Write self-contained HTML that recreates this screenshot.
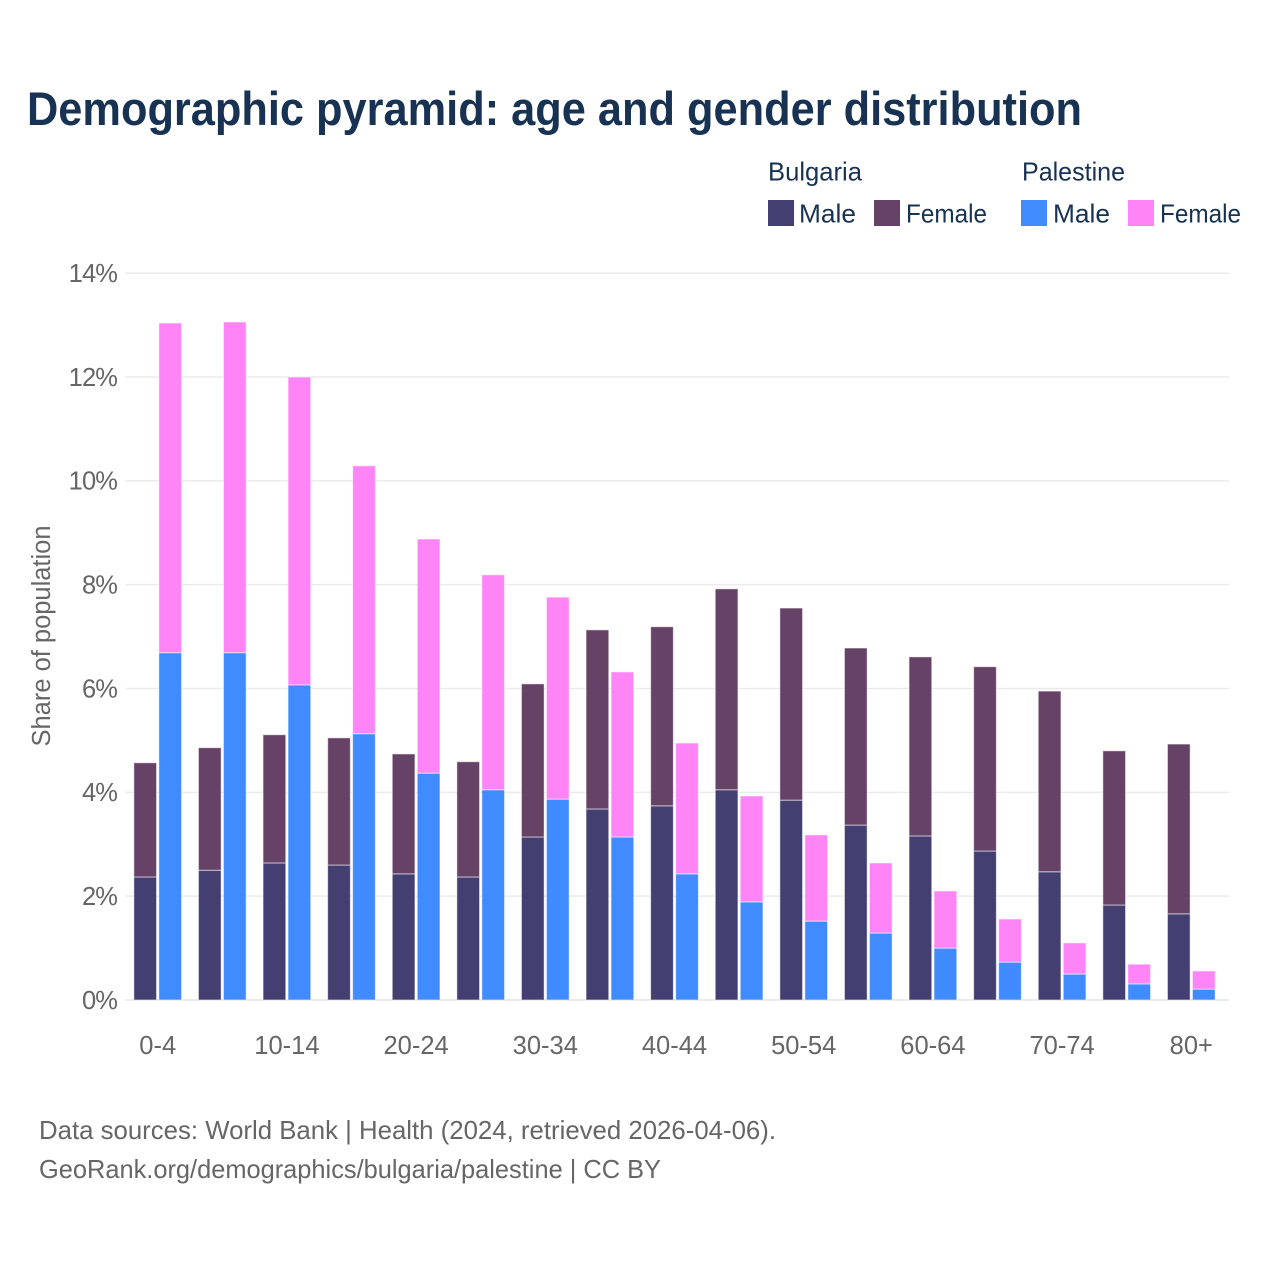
<!DOCTYPE html>
<html lang="en">
<head>
<meta charset="utf-8">
<title>Demographic pyramid: age and gender distribution</title>
<style>
html,body{margin:0;padding:0;background:#fff;width:1280px;height:1280px;overflow:hidden}
svg{display:block}
text{font-family:"Liberation Sans",sans-serif}
</style>
</head>
<body>
<svg id="chart" xmlns="http://www.w3.org/2000/svg" width="1280" height="1280" viewBox="0 0 1280 1280">
  <rect x="0" y="0" width="1280" height="1280" fill="#ffffff"/>
  <text x="27" y="125" font-size="47" font-weight="700" fill="#173252" textLength="1055" lengthAdjust="spacingAndGlyphs">Demographic pyramid: age and gender distribution</text>

  <g font-size="26" fill="#173252">
    <text x="768" y="180.5" textLength="94" lengthAdjust="spacingAndGlyphs">Bulgaria</text>
    <text x="1022" y="180.5" textLength="103" lengthAdjust="spacingAndGlyphs">Palestine</text>
    <rect x="768" y="200" width="26" height="26" fill="#433f70"/>
    <text x="799" y="222.5" textLength="57" lengthAdjust="spacingAndGlyphs">Male</text>
    <rect x="874" y="200" width="26" height="26" fill="#674267"/>
    <text x="906" y="222.5" textLength="81" lengthAdjust="spacingAndGlyphs">Female</text>
    <rect x="1021" y="200" width="26" height="26" fill="#3f8bff"/>
    <text x="1053" y="222.5" textLength="57" lengthAdjust="spacingAndGlyphs">Male</text>
    <rect x="1128" y="200" width="26" height="26" fill="#ff85f7"/>
    <text x="1160" y="222.5" textLength="81" lengthAdjust="spacingAndGlyphs">Female</text>
  </g>

  <g id="grid"></g>
  <g id="yticks"></g>
  <g id="bars"></g>
  <g id="xticks"></g>

  <text transform="translate(50,636) rotate(-90)" text-anchor="middle" font-size="25.5" fill="#666666" textLength="221" lengthAdjust="spacingAndGlyphs">Share of population</text>

  <text x="39" y="1139" font-size="26" fill="#666666" textLength="737" lengthAdjust="spacingAndGlyphs">Data sources: World Bank | Health (2024, retrieved 2026-04-06).</text>
  <text x="39" y="1178" font-size="26" fill="#666666" textLength="622" lengthAdjust="spacingAndGlyphs">GeoRank.org/demographics/bulgaria/palestine | CC BY</text>
</svg>
<script>
const categories = ["0-4","5-9","10-14","15-19","20-24","25-29","30-34","35-39","40-44","45-49","50-54","55-59","60-64","65-69","70-74","75-79","80+"];
const bulgariaMale = [2.37,2.50,2.64,2.60,2.43,2.37,3.14,3.68,3.74,4.05,3.85,3.37,3.16,2.87,2.47,1.83,1.66];
const bulgariaFemale = [2.20,2.36,2.47,2.45,2.31,2.22,2.95,3.45,3.45,3.87,3.70,3.41,3.45,3.55,3.48,2.97,3.27];
const palestineMale = [6.69,6.69,6.07,5.13,4.37,4.05,3.87,3.14,2.43,1.89,1.52,1.29,1.00,0.73,0.50,0.31,0.21];
const palestineFemale = [6.35,6.37,5.93,5.16,4.51,4.14,3.89,3.18,2.52,2.04,1.66,1.35,1.10,0.83,0.60,0.38,0.35];
const yTicks = [0,2,4,6,8,10,12,14];
const xLabelEvery = 2;

const NS = "http://www.w3.org/2000/svg";
const plotLeft = 125.4, plotRight = 1223.6, gridRight = 1229, y0 = 1000, y14 = 273.2;
const bandStep = (plotRight - plotLeft) / categories.length;
const barW = 22.7, barGap = 2.3;

function yScale(v) { return y0 - (v / 14) * (y0 - y14); }
function xCenter(i) { return plotLeft + bandStep * (i + 0.5); }

const gridG = document.getElementById("grid");
const yG = document.getElementById("yticks");
const barsG = document.getElementById("bars");
const xG = document.getElementById("xticks");

yTicks.forEach(function (t) {
  const line = document.createElementNS(NS, "line");
  
  
  line.setAttribute("x1", plotLeft);
  line.setAttribute("x2", gridRight);
  line.setAttribute("y1", yScale(t));
  line.setAttribute("y2", yScale(t));
  line.setAttribute("stroke", "#ebebeb");
  line.setAttribute("stroke-width", t === 0 ? 2 : 1.5);
  gridG.appendChild(line);

  const label = document.createElementNS(NS, "text");
  
  
  label.setAttribute("x", 117);
  label.setAttribute("y", yScale(t) + 8.8);
  label.setAttribute("text-anchor", "end");
  label.setAttribute("font-size", "25.5");
  label.setAttribute("letter-spacing", "-0.9");
  label.setAttribute("fill", "#666666");
  label.textContent = t + "%";
  yG.appendChild(label);
});

function addBar(x, v0, v1, color) {
  const r = document.createElementNS(NS, "rect");
  
  
  r.setAttribute("x", x);
  r.setAttribute("y", yScale(v1));
  r.setAttribute("width", barW);
  r.setAttribute("height", yScale(v0) - yScale(v1));
  r.setAttribute("fill", color);
  r.setAttribute("stroke", "rgba(255,255,255,0.55)");
  r.setAttribute("stroke-width", "1");
  barsG.appendChild(r);
}

categories.forEach(function (c, i) {
  const cx = xCenter(i);
  const xA = cx - barGap / 2 - barW;
  const xB = cx + barGap / 2;
  addBar(xA, 0, bulgariaMale[i], "#433f70");
  addBar(xA, bulgariaMale[i], bulgariaMale[i] + bulgariaFemale[i], "#674267");
  addBar(xB, 0, palestineMale[i], "#3f8bff");
  addBar(xB, palestineMale[i], palestineMale[i] + palestineFemale[i], "#ff85f7");

  if (i % xLabelEvery === 0) {
    const label = document.createElementNS(NS, "text");
    
    
    label.setAttribute("x", cx);
    label.setAttribute("y", 1054);
    label.setAttribute("text-anchor", "middle");
    label.setAttribute("font-size", "25.5");
    label.setAttribute("fill", "#666666");
    label.textContent = c;
    xG.appendChild(label);
  }
});
</script>
</body>
</html>
